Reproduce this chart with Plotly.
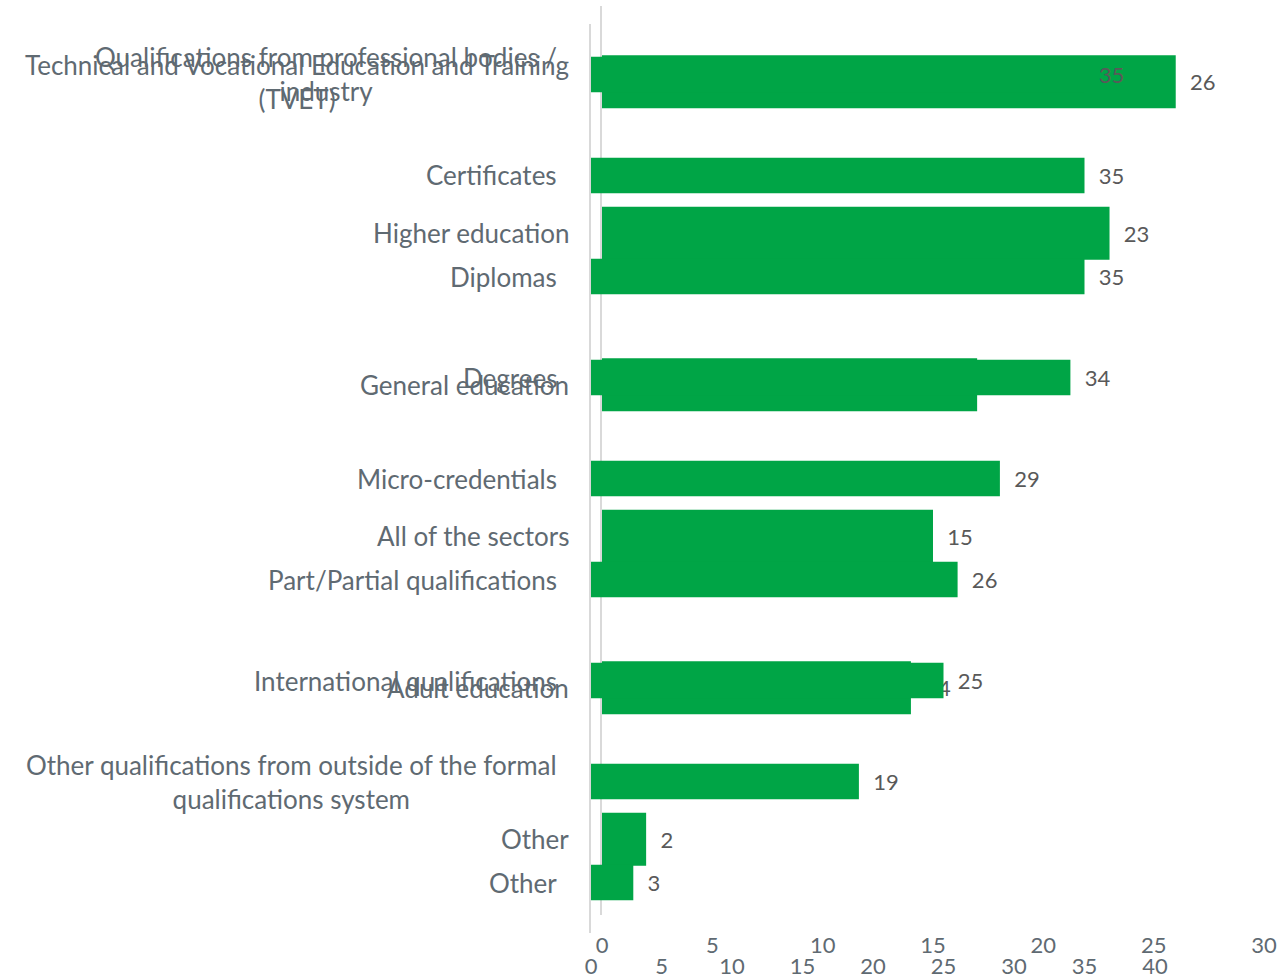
import plotly.graph_objects as go

# chart A (types of qualifications), axis 0-40
qual_labels = [
    "Qualifications from professional bodies /<br>industry",
    "Certificates",
    "Diplomas",
    "Degrees",
    "Micro-credentials",
    "Part/Partial qualifications",
    "International qualifications",
    "Other qualifications from outside of the formal<br>qualifications system",
    "Other",
]
qual_values = [35, 35, 35, 34, 29, 26, 25, 19, 3]
qual_ticks = [0, 5, 10, 15, 20, 25, 30, 35, 40]

# chart B (sectors), axis 0-30
sector_labels = [
    "Technical and Vocational Education and Training<br>(TVET)",
    "Higher education",
    "General education",
    "All of the sectors",
    "Adult education",
    "Other",
]
sector_values = [26, 23, 17, 15, 14, 2]
sector_ticks = [0, 5, 10, 15, 20, 25, 30]

W, H = 1278, 978
GREEN = "#00a546"
TEXT = "#5f6a72"
NUM = "#595959"
FONT = "Lato"
PAD = "\u00a0\u00a0"


def px_x(p):
    return p / W


def px_y(p):
    return 1 - p / H


# use index keys so the two "Other" categories stay separate
qual_keys = [f"q{i}" for i in range(len(qual_labels))]
sector_keys = [f"s{i}" for i in range(len(sector_labels))]

fig = go.Figure()

# sectors drawn first (underneath)
fig.add_trace(go.Bar(
    x=sector_values,
    y=sector_keys,
    orientation="h",
    marker=dict(color=GREEN, line=dict(width=0)),
    text=[PAD + str(v) for v in sector_values],
    textposition="outside",
    outsidetextfont=dict(family=FONT, size=22, color=NUM),
    cliponaxis=False,
    xaxis="x",
    yaxis="y",
    hoverinfo="skip",
))

# qualifications on top
fig.add_trace(go.Bar(
    x=qual_values,
    y=qual_keys,
    orientation="h",
    marker=dict(color=GREEN, line=dict(width=0)),
    text=[PAD + str(v) for v in qual_values],
    textposition="outside",
    outsidetextfont=dict(family=FONT, size=22, color=NUM),
    cliponaxis=False,
    xaxis="x2",
    yaxis="y2",
    hoverinfo="skip",
))

annotations = []
for key, lab in zip(sector_keys, sector_labels):
    annotations.append(dict(
        x=px_x(571), xref="paper", xanchor="right",
        y=key, yref="y", yanchor="middle",
        text=lab, align="center", showarrow=False,
        font=dict(family=FONT, size=26, color=TEXT),
    ))
for key, lab in zip(qual_keys, qual_labels):
    annotations.append(dict(
        x=px_x(559), xref="paper", xanchor="right",
        y=key, yref="y2", yanchor="middle",
        text=lab, align="center", showarrow=False,
        font=dict(family=FONT, size=26, color=TEXT),
    ))

axis_common = dict(showgrid=False, zeroline=False, fixedrange=True)

fig.update_layout(
    width=W,
    height=H,
    autosize=False,
    margin=dict(l=0, r=0, t=0, b=0, autoexpand=False),
    paper_bgcolor="white",
    plot_bgcolor="rgba(0,0,0,0)",
    showlegend=False,
    bargap=0.65,
    font=dict(family=FONT, color=TEXT),
    xaxis=dict(
        domain=[px_x(602), px_x(1264)], range=[0, 30], anchor="y",
        tickvals=sector_ticks, ticks="", showline=False,
        tickfont=dict(size=22, color=TEXT), ticklabelstandoff=15,
        **axis_common,
    ),
    yaxis=dict(
        domain=[px_y(915), px_y(6)], anchor="x",
        type="category", categoryorder="array", categoryarray=sector_keys,
        autorange="reversed", showticklabels=False,
        showline=True, linecolor="#d9d9d9", linewidth=2,
        **axis_common,
    ),
    xaxis2=dict(
        domain=[px_x(591), px_x(1155)], range=[0, 40], anchor="y2",
        tickvals=qual_ticks, ticks="", showline=False,
        tickfont=dict(size=22, color=TEXT), ticklabelstandoff=18,
        **axis_common,
    ),
    yaxis2=dict(
        domain=[px_y(933), px_y(24)], anchor="x2",
        type="category", categoryorder="array", categoryarray=qual_keys,
        autorange="reversed", showticklabels=False,
        showline=True, linecolor="#d9d9d9", linewidth=2,
        **axis_common,
    ),
    annotations=annotations,
)

fig.write_html(
    "out.html",
    config={"responsive": False, "displayModeBar": False},
    post_script="document.body.style.margin='0';"
                "document.body.style.overflow='hidden';",
)
